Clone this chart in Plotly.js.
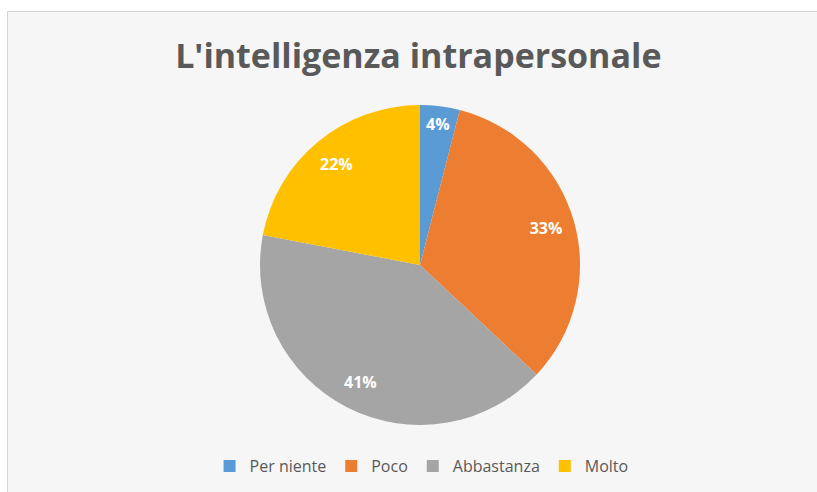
<!DOCTYPE html>
<html>
<head>
<meta charset="utf-8">
<script src="https://cdn.plot.ly/plotly-3.0.1.min.js"></script>
<style>html,body{margin:0;padding:0;background:#fff;}#chart{width:817px;height:492px;}</style>
</head>
<body>
<div id="chart"></div>
<script>
const categories = ["Per niente", "Poco", "Abbastanza", "Molto"];
const values = [4, 33, 41, 22];
const colors = ["#5B9BD5", "#ED7D31", "#A5A5A5", "#FFC000"];
const chartTitle = "L'intelligenza intrapersonale";

const W = 817, H = 492;
const pieDomain = {x: [260 / W, 580 / W], y: [1 - 425 / H, 1 - 105 / H]};

const slices = {
  type: "pie",
  labels: categories,
  values: values,
  sort: false,
  direction: "clockwise",
  rotation: 0,
  marker: {colors: colors, line: {color: "#ffffff", width: 0}},
  textinfo: "none",
  hoverinfo: "label+percent",
  domain: pieDomain
};

// label ring: same data, transparent, used only to place percentage labels further out
const labelsRing = {
  type: "pie",
  labels: categories,
  values: values,
  sort: false,
  direction: "clockwise",
  rotation: 0,
  hole: 0.64,
  showlegend: false,
  marker: {colors: ["rgba(0,0,0,0)", "rgba(0,0,0,0)", "rgba(0,0,0,0)", "rgba(0,0,0,0)"], line: {width: 0}},
  texttemplate: "%{percent:.0%}",
  textposition: "inside",
  insidetextorientation: "horizontal",
  textfont: {family: "Open Sans, sans-serif", size: 16, color: "#ffffff", weight: "bold"},
  hoverinfo: "skip",
  domain: pieDomain
};

const layout = {
  width: W, height: H,
  margin: {l: 0, r: 0, t: 0, b: 0},
  paper_bgcolor: "#ffffff",
  showlegend: true,
  title: {
    text: chartTitle,
    x: 0.512, xanchor: "center",
    y: 1 - 56 / H, yanchor: "middle",
    font: {family: "Open Sans, sans-serif", size: 34, color: "#595959", weight: "bold"}
  },
  legend: {
    orientation: "h",
    x: 0.516, xanchor: "center",
    y: 1 - 466 / H, yanchor: "middle",
    font: {family: "Open Sans, sans-serif", size: 16, color: "#595959"},
    itemwidth: 30,
    traceorder: "normal",
    bgcolor: "rgba(0,0,0,0)"
  },
  shapes: [{
    type: "rect", xref: "paper", yref: "paper",
    x0: 7.5 / W, x1: 1.01, y0: -0.01, y1: 1 - 11.5 / H,
    fillcolor: "#f6f6f6",
    line: {color: "#d4d4d4", width: 1},
    layer: "below"
  }]
};

Plotly.newPlot("chart", [slices, labelsRing], layout, {displayModeBar: false, staticPlot: true});
</script>
</body>
</html>
